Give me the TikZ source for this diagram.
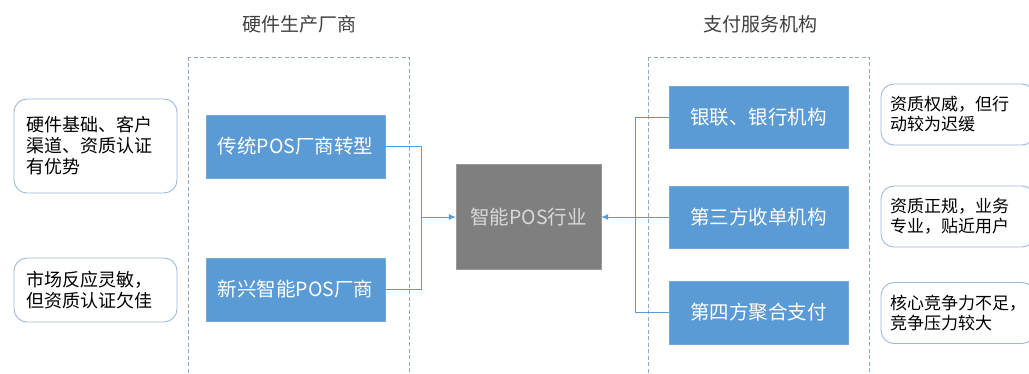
\documentclass[tikz,border=0pt]{standalone}
\usepackage{fontspec}
\setmainfont{Noto Sans CJK SC}
\usepackage{tikz}
\usetikzlibrary{arrows.meta}
\definecolor{boxblue}{HTML}{5B9BD5}
\definecolor{linkblue}{HTML}{5B9BD5}
\definecolor{dashblue}{HTML}{8FAAC8}
\definecolor{noteblue}{HTML}{9DB9DE}
\definecolor{coregray}{HTML}{7F7F7F}
\definecolor{titlegray}{HTML}{404040}

\begin{document}
\begin{tikzpicture}
[x=1pt,y=-1pt,
 title/.style={text=titlegray,font=\fontsize{19}{22}\selectfont},
 blue box/.style={fill=boxblue,draw=boxblue!85!white,text=white,inner sep=0pt,
   minimum width=179pt,minimum height=63pt,font=\fontsize{19.5}{22}\selectfont},
 core box/.style={fill=coregray,draw=coregray!80!white,text=black!15,inner sep=0pt,
   minimum width=145pt,minimum height=105pt,font=\fontsize{19.5}{22}\selectfont},
 note/.style={draw=noteblue,line width=0.9pt,rounded corners=13pt,fill=white,inner sep=0pt,
   text width=#1,align=left,font=\fontsize{18}{21}\selectfont},
 right note/.style={note=#1,minimum width=154pt,minimum height=61pt,
   font=\fontsize{17}{20}\selectfont},
 dashbox/.style={draw=dashblue,dash pattern=on 4pt off 2.5pt,line width=0.8pt},
 link/.style={draw=linkblue,line width=0.8pt},
 tip/.style={-{Latex[length=7pt,width=6pt]}}]
\useasboundingbox (0,0) rectangle (1029,374);
\draw[dashbox] (188,57) rectangle (409,390);
\draw[dashbox] (648,57) rectangle (869,390);
\node[title] (hw) at (299,24) {硬件生产厂商};
\node[title] (pay) at (760,24) {支付服务机构};
\node[blue box] (tpos) at (295.5,146.5) {传统POS厂商转型};
\node[blue box] (npos) at (295.5,289.5) {新兴智能POS厂商};
\node[core box] (core) at (528.5,217) {智能POS行业};
\node[blue box,minimum height=62pt] (bank) at (758.5,117) {银联、银行机构};
\node[blue box,minimum height=62pt] (acq) at (758.5,217) {第三方收单机构};
\node[blue box] (agg) at (758.5,312.5) {第四方聚合支付};
\node[note=137pt,minimum width=163pt,minimum height=94pt] (n1) at (95.5,146) {硬件基础、客户\\渠道、资质认证\\有优势};
\node[note=137pt,minimum width=163pt,minimum height=64pt] (n2) at (95.5,290) {市场反应灵敏，\\但资质认证欠佳};
\node[right note=136pt] (n3) at (958,114.5) {资质权威，但行\\动较为迟缓};
\node[right note=136pt] (n4) at (958,216.5) {资质正规，业务\\专业，贴近用户};
\node[right note=136pt] (n5) at (958,313) {核心竞争力不足，\\竞争压力较大};
\coordinate (jl) at (421,217);
\coordinate (jr) at (635,217);
\draw[link] (tpos.east) -| (jl);
\draw[link] (npos.east) -| (jl);
\draw[link,tip] (jl) -- (core.west);
\draw[link] (bank.west) -| (jr);
\draw[link] (agg.west) -| (jr);
\draw[link,tip] (acq.west) -- (core.east);
\end{tikzpicture}
\end{document}
